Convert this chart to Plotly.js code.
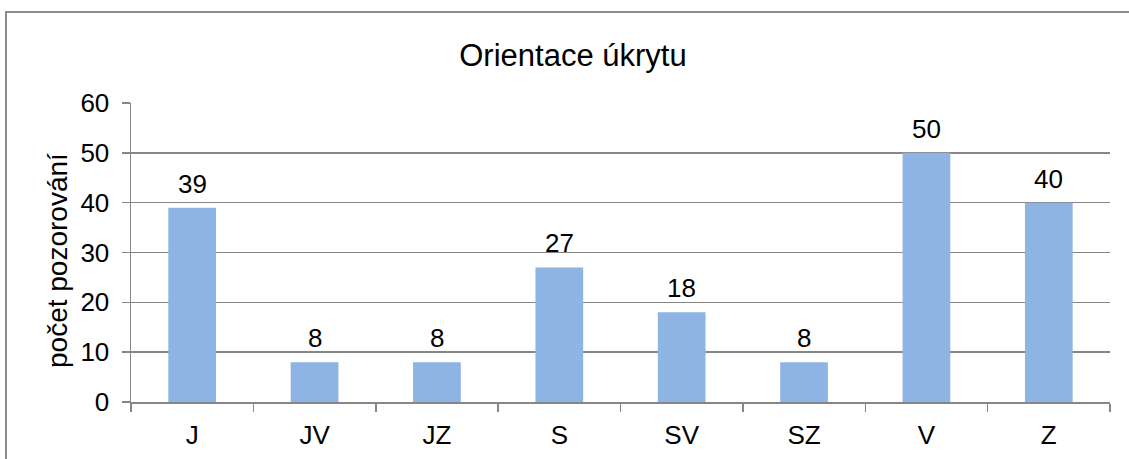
<!DOCTYPE html>
<html>
<head>
<meta charset="utf-8">
<script src="https://cdn.plot.ly/plotly-3.0.1.min.js"></script>
<style>html,body{margin:0;padding:0;background:#fff;}#chart{width:1129px;height:459px;}</style>
</head>
<body>
<div id="chart"></div>
<script>
const categories = ["J", "JV", "JZ", "S", "SV", "SZ", "V", "Z"];
const counts = [39, 8, 8, 27, 18, 8, 50, 40];
const yTickValues = [0, 10, 20, 30, 40, 50, 60];
const chartTitle = "Orientace úkrytu";
const yTitle = "počet pozorování";

const FONT = "Liberation Sans, Arial, sans-serif";
const GRID = "#868686";
const LABEL_SIZE = 26;

const trace = {
  type: "bar",
  x: categories,
  y: counts,
  marker: {color: "#8EB4E3", line: {width: 0}},
  hoverinfo: "none"
};

const valueLabels = categories.map((c, i) => ({
  text: String(counts[i]),
  x: c, y: counts[i],
  xref: "x", yref: "y",
  xanchor: "center", yanchor: "bottom",
  yshift: 7,
  showarrow: false,
  font: {family: FONT, size: LABEL_SIZE, color: "#000"}
}));

const layout = {
  width: 1129,
  height: 459,
  margin: {l: 131, r: 19, t: 103, b: 57},
  paper_bgcolor: "#fff",
  plot_bgcolor: "#fff",
  showlegend: false,
  bargap: 0.61,
  font: {family: FONT, color: "#000"},
  title: {
    text: chartTitle,
    font: {family: FONT, size: 31, color: "#000"},
    x: 0.5075, xref: "container", xanchor: "center",
    y: 0.88, yref: "container", yanchor: "middle"
  },
  xaxis: {
    type: "category",
    tickson: "boundaries",
    ticks: "outside",
    ticklen: 8,
    tickcolor: GRID,
    tickwidth: 1.5,
    showline: true,
    linecolor: GRID,
    linewidth: 1.5,
    showgrid: false,
    tickfont: {family: FONT, size: LABEL_SIZE, color: "#000"},
    ticklabelstandoff: 9,
    fixedrange: true
  },
  yaxis: {
    range: [0, 60],
    tickvals: yTickValues,
    ticktext: yTickValues.map(String),
    ticks: "outside",
    ticklen: 8,
    tickcolor: GRID,
    tickwidth: 1.5,
    showline: true,
    linecolor: GRID,
    linewidth: 1.5,
    showgrid: true,
    gridcolor: GRID,
    gridwidth: 1.5,
    zeroline: false,
    tickfont: {family: FONT, size: LABEL_SIZE, color: "#000"},
    ticklabelstandoff: 7,
    fixedrange: true
  },
  annotations: valueLabels.concat([{
    text: yTitle,
    xref: "paper", yref: "paper",
    x: (57 - 131) / 979, y: (402 - 261) / 299,
    xanchor: "center", yanchor: "middle",
    textangle: -90,
    showarrow: false,
    font: {family: FONT, size: 28, color: "#000"}
  }]),
  shapes: [{
    type: "rect",
    xref: "paper", yref: "paper",
    x0: (6 - 131) / 979, x1: (1140 - 131) / 979,
    y0: (402 - 470) / 299, y1: (402 - 12) / 299,
    line: {color: "#8C8C8C", width: 2},
    fillcolor: "rgba(0,0,0,0)",
    layer: "below"
  }]
};

Plotly.newPlot("chart", [trace], layout, {displayModeBar: false, staticPlot: true});
</script>
</body>
</html>
